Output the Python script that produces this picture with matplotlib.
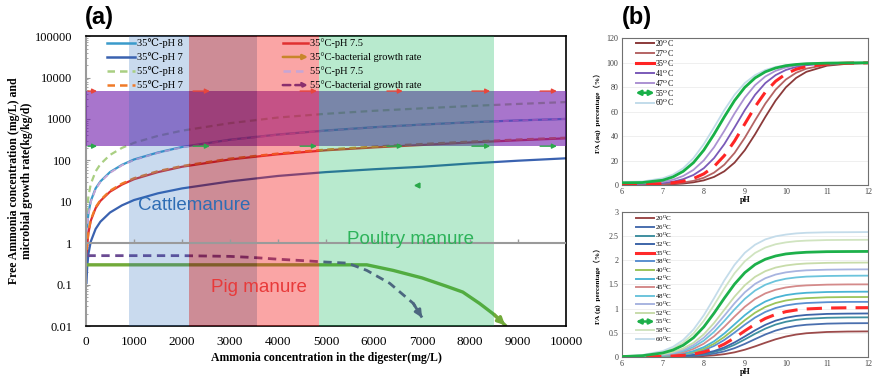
import matplotlib.pyplot as plt

plt.rcParams['mathtext.fontset'] = 'stix'
SERIF = ['Liberation Serif', 'DejaVu Serif', 'Noto Sans CJK SC']
SANS = ['Liberation Sans', 'DejaVu Sans']

# ---------------- panel (a) data ----------------
tan = [10, 25, 50, 100, 200, 300, 500, 750, 1000, 1500, 2000, 3000, 4000,
       5000, 6000, 7000, 8000, 9000, 10000]
fa_35_ph8 = [1.05, 2.6, 5.2, 10.5, 21, 31, 52, 78, 105, 155, 210, 315, 420,
             525, 630, 730, 830, 920, 1000]
fa_35_ph7 = [0.11, 0.27, 0.55, 1.1, 2.2, 3.3, 5.5, 8.2, 11, 16, 21, 31, 42,
             52, 61, 70, 84, 98, 112]
fa_55_ph8 = [2.7, 6.8, 13.5, 27, 54, 81, 135, 200, 265, 390, 520, 790, 1080,
             1330, 1570, 1800, 2050, 2300, 2550]
fa_55_ph7 = [0.37, 0.92, 1.85, 3.7, 7.4, 11, 18.5, 27.5, 37, 55, 73, 110, 146,
             182, 215, 248, 283, 318, 352]
fa_35_ph75 = [0.35, 0.88, 1.75, 3.5, 7, 10.5, 17.5, 26, 35, 52, 70, 105, 140,
              175, 205, 235, 270, 305, 340]
fa_55_ph75 = [1.0, 2.5, 5.0, 10, 20, 30, 50, 76, 102, 152, 205, 310, 415,
              520, 625, 725, 825, 915, 1000]

growth35_x = [30, 500, 1000, 2000, 3000, 4000, 5000, 5850, 6400, 7000, 7500,
              7850, 8200, 8500, 8730]
growth35_y = [0.3, 0.3, 0.3, 0.3, 0.3, 0.3, 0.3, 0.3, 0.22, 0.145, 0.092,
              0.066, 0.035, 0.019, 0.0105]
growth55_x = [30, 500, 1000, 2000, 3000, 3500, 4000, 4500, 5000, 5450, 5850,
              6330, 6820, 7000]
growth55_y = [0.5, 0.5, 0.5, 0.5, 0.48, 0.45, 0.41, 0.38, 0.35, 0.33, 0.22,
              0.107, 0.035, 0.016]

band_left = [900, 2150, 3560, 4850]
band_right = [2150, 3560, 4850, 8500]
inhib_low, inhib_high = 220, 4700
arrow_tails = [40, 2230, 4460, 6270, 8040, 9460]
arrow_heads = [230, 2580, 4810, 6600, 8420, 9810]
marker_x, marker_y = [6900], [25]

xticks_a = [0, 1000, 2000, 3000, 4000, 5000, 6000, 7000, 8000, 9000, 10000]
yticks_a = [0.01, 0.1, 1, 10, 100, 1000, 10000, 100000]
ylabels_a = ['0.01', '0.1', '1', '10', '100', '1000', '10000', '100000']

# ---------------- panel (b) data ----------------
ph = [6, 6.5, 7, 7.25, 7.5, 7.75, 8, 8.25, 8.5, 8.75, 9, 9.25, 9.5, 9.75,
      10, 10.25, 10.5, 11, 11.5, 12]

aq_20 = [0.5, 0.5, 0.5, 0.7, 1.2, 2.2, 3.8, 6.6, 11.2, 18.3, 28.5, 41.5,
         55.7, 69.1, 79.9, 87.6, 92.6, 97.6, 99.2, 99.7]
aq_27 = [0.6, 0.6, 0.7, 1.1, 2.0, 3.4, 5.9, 10.1, 16.6, 26.2, 38.7, 52.9,
         66.6, 78.0, 86.3, 91.8, 95.2, 98.4, 99.5, 99.8]
aq_35 = [0.8, 0.9, 1.0, 1.8, 3.1, 5.3, 9.1, 15.1, 24.0, 36.0, 50.0, 64.0,
         76.0, 84.9, 90.9, 94.7, 96.9, 99.0, 99.7, 99.9]
aq_41 = [1.0, 1.1, 1.6, 2.7, 4.8, 8.2, 13.7, 22.0, 33.4, 47.1, 61.3, 73.8,
         83.4, 89.9, 94.1, 96.6, 98.0, 99.4, 99.8, 100.0]
aq_47 = [1.2, 1.4, 2.5, 4.3, 7.4, 12.4, 20.1, 30.9, 44.3, 58.5, 71.5, 81.7,
         88.8, 93.4, 96.2, 97.8, 98.8, 99.6, 99.9, 100.0]
aq_55 = [1.8, 2.0, 3.9, 6.6, 11.2, 18.3, 28.5, 41.5, 55.7, 69.1, 79.9, 87.6,
         92.6, 95.7, 97.6, 98.6, 99.2, 99.7, 99.9, 100.0]
aq_60 = [2.5, 2.8, 5.5, 8.5, 13.7, 22.0, 33.4, 47.1, 61.3, 73.8, 83.4, 89.9,
         94.1, 96.6, 98.0, 98.9, 99.4, 99.8, 99.9, 100.0]

g_20 = [0.0, 0.001, 0.002, 0.004, 0.007, 0.012, 0.02, 0.035, 0.059, 0.097,
        0.151, 0.22, 0.295, 0.366, 0.423, 0.464, 0.491, 0.517, 0.526, 0.529]
g_26 = [0.0, 0.001, 0.004, 0.008, 0.014, 0.024, 0.042, 0.071, 0.116, 0.183,
        0.271, 0.37, 0.466, 0.546, 0.604, 0.643, 0.666, 0.689, 0.697, 0.699]
g_30 = [0.001, 0.002, 0.007, 0.011, 0.02, 0.035, 0.06, 0.102, 0.165, 0.253,
        0.363, 0.48, 0.586, 0.67, 0.728, 0.766, 0.789, 0.81, 0.817, 0.819]
g_32 = [0.001, 0.003, 0.008, 0.014, 0.025, 0.043, 0.074, 0.123, 0.198, 0.301,
        0.424, 0.552, 0.664, 0.751, 0.809, 0.847, 0.869, 0.89, 0.896, 0.899]
g_35 = [0.001, 0.004, 0.011, 0.02, 0.035, 0.06, 0.103, 0.169, 0.267, 0.395,
        0.54, 0.679, 0.796, 0.88, 0.936, 0.971, 0.992, 1.011, 1.017, 1.019]
g_38 = [0.002, 0.005, 0.016, 0.028, 0.049, 0.084, 0.141, 0.229, 0.352, 0.505,
        0.667, 0.815, 0.931, 1.012, 1.065, 1.097, 1.115, 1.132, 1.138, 1.139]
g_40 = [0.002, 0.006, 0.019, 0.034, 0.059, 0.101, 0.17, 0.273, 0.414, 0.584,
        0.76, 0.915, 1.034, 1.115, 1.167, 1.198, 1.215, 1.233, 1.238, 1.239]
g_42 = [0.002, 0.008, 0.024, 0.041, 0.072, 0.123, 0.204, 0.324, 0.486, 0.675,
        0.864, 1.026, 1.146, 1.227, 1.278, 1.308, 1.326, 1.342, 1.347, 1.349]
g_45 = [0.003, 0.011, 0.033, 0.058, 0.099, 0.168, 0.275, 0.428, 0.623, 0.836,
        1.037, 1.199, 1.314, 1.389, 1.436, 1.464, 1.479, 1.494, 1.499, 1.5]
g_48 = [0.004, 0.013, 0.041, 0.072, 0.124, 0.208, 0.338, 0.519, 0.744, 0.983,
        1.201, 1.373, 1.492, 1.569, 1.616, 1.643, 1.66, 1.673, 1.678, 1.68]
g_50 = [0.005, 0.016, 0.05, 0.086, 0.148, 0.248, 0.398, 0.605, 0.853, 1.11,
        1.336, 1.51, 1.627, 1.703, 1.748, 1.774, 1.79, 1.803, 1.808, 1.81]
g_52 = [0.006, 0.019, 0.06, 0.104, 0.177, 0.294, 0.468, 0.702, 0.975, 1.248,
        1.482, 1.656, 1.773, 1.847, 1.89, 1.916, 1.931, 1.944, 1.948, 1.95]
g_55 = [0.009, 0.027, 0.084, 0.144, 0.244, 0.399, 0.621, 0.905, 1.214, 1.506,
        1.742, 1.91, 2.019, 2.086, 2.128, 2.149, 2.163, 2.175, 2.178, 2.18]
g_58 = [0.011, 0.034, 0.103, 0.178, 0.3, 0.486, 0.748, 1.072, 1.416, 1.73,
        1.977, 2.149, 2.26, 2.328, 2.367, 2.391, 2.403, 2.415, 2.418, 2.42]
g_60 = [0.013, 0.04, 0.123, 0.211, 0.353, 0.568, 0.862, 1.215, 1.582, 1.904,
        2.152, 2.319, 2.428, 2.492, 2.528, 2.552, 2.565, 2.575, 2.577, 2.58]

aq_temps = ['20', '27', '35', '41', '47', '55', '60']
g_temps = ['20', '26', '30', '32', '35', '38', '40', '42', '45', '48', '50',
           '52', '55', '58', '60']

# ---------------- figure ----------------
fig = plt.figure(figsize=(8.74, 3.79), dpi=100)

# ===== panel (a) =====
ax = fig.add_axes([0.0984, 0.1398, 0.5492, 0.765])
ax.set_yscale('log')
ax.set_xlim(0, 10000)
ax.set_ylim(0.01, 100000)

ax.plot(tan, fa_55_ph8, color='#a9cf82', lw=1.6, ls=(0, (3, 2)), zorder=2)
ax.plot(tan, fa_35_ph8, color='#3a9bcb', lw=1.6, zorder=2)
ax.plot(tan, fa_55_ph75, color='#c6a6d6', lw=1.4, ls=(0, (3, 2)), zorder=2)
ax.plot(tan, fa_35_ph75, color='#e03030', lw=1.6, zorder=2)
ax.plot(tan, fa_55_ph7, color='#f07a28', lw=1.6, ls=(0, (3, 2)), zorder=2)
ax.plot(tan, fa_35_ph7, color='#3a62b0', lw=1.6, zorder=2)

ax.plot(growth35_x, growth35_y, color='#72aa3a', lw=2.4, zorder=2)
ax.annotate('', xy=(growth35_x[-1], growth35_y[-1]),
            xytext=(growth35_x[-2], growth35_y[-2]),
            arrowprops=dict(arrowstyle='-|>', color='#72aa3a', lw=2.4,
                            mutation_scale=10, shrinkA=0, shrinkB=0), zorder=2)
ax.plot(growth55_x, growth55_y, color='#6a4a92', lw=2.0, ls=(0, (3, 2)), zorder=2)
ax.annotate('', xy=(growth55_x[-1], growth55_y[-1]),
            xytext=(growth55_x[-2], growth55_y[-2]),
            arrowprops=dict(arrowstyle='-|>', color='#6a4a92', lw=2.0,
                            mutation_scale=10, shrinkA=0, shrinkB=0), zorder=2)

# inhibition range band, then manure bands laid over it
ax.axhspan(inhib_low, inhib_high, color='#6e19aa', alpha=0.6, lw=0, zorder=3)
band_colors = ['#286ebe', '#900016', '#f31e1e', '#00b450']
band_alpha = [0.25, 0.45, 0.4, 0.28]
for l, r, c, a in zip(band_left, band_right, band_colors, band_alpha):
    ax.axvspan(l, r, color=c, alpha=a, lw=0, zorder=4)

ax.axhline(1, color='#9a9a9a', lw=1.5, zorder=5)
ax.plot(xticks_a[1:-1], [1] * len(xticks_a[1:-1]), ls='none', marker=2,
        ms=3, color='#9a9a9a', zorder=5)

for tx, hx in zip(arrow_tails, arrow_heads):
    for yy, c in [(inhib_high, '#e8463c'), (inhib_low, '#2aa84a')]:
        ax.annotate('', xy=(hx, yy), xytext=(tx, yy),
                    arrowprops=dict(arrowstyle='-|>', color=c, lw=1.0,
                                    mutation_scale=7, shrinkA=0, shrinkB=0),
                    zorder=6)
ax.plot(marker_x, marker_y, ls='none', marker='<', ms=3.5, color='#2aa84a',
        zorder=6)

ax.text(2250, 8.3, 'Cattlemanure', color='#2e6db4', fontsize=13.5,
        family=SANS, ha='center', va='center', zorder=7)
ax.text(3600, 0.087, 'Pig manure', color='#e83a3a', fontsize=13.5,
        family=SANS, ha='center', va='center', zorder=7)
ax.text(6770, 1.23, 'Poultry manure', color='#2db35a', fontsize=13.5,
        family=SANS, ha='center', va='center', zorder=7)

ax.set_xticks(xticks_a)
ax.set_xticklabels([str(v) for v in xticks_a], family=SERIF, fontsize=9.5)
ax.set_yticks(yticks_a)
ax.set_yticklabels(ylabels_a, family=SERIF, fontsize=9)
ax.tick_params(axis='x', length=0, pad=7)
ax.tick_params(axis='y', which='major', direction='in', length=3,
               color='#9a9a9a', pad=10)
ax.tick_params(axis='y', which='minor', direction='in', length=1.5,
               color='#9a9a9a')
ax.spines['left'].set_color('#9a9a9a')
ax.spines['left'].set_linewidth(1.5)
for s in ['top', 'right', 'bottom']:
    ax.spines[s].set_linewidth(1.2)
ax.set_xlabel('Ammonia concentration in the digester(mg/L)', family=SERIF,
              fontsize=8.5, weight='bold', labelpad=3)
ax.set_ylabel('Free Ammonia concentration (mg/L) and\nmicrobial growth rate(kg/kg/d)',
              family=SERIF, fontsize=8.5, weight='bold', linespacing=1.15)
ax.yaxis.set_label_coords(-0.11, 0.5)


def leg_line(a, x0, x1, y, label, fs, text_dx, **kw):
    a.plot([x0, x1], [y, y], transform=a.transAxes, clip_on=False,
           zorder=10, **kw)
    a.text(x1 + text_dx, y, label, transform=a.transAxes, va='center',
           fontsize=fs, family=SERIF, zorder=10)


def leg_arrow(a, x0, x1, y, label, fs, text_dx, style, color, lw, ls='-'):
    a.annotate('', xy=(x1, y), xytext=(x0, y), xycoords='axes fraction',
               arrowprops=dict(arrowstyle=style, color=color, lw=lw, ls=ls,
                               mutation_scale=7, shrinkA=0, shrinkB=0),
               zorder=10)
    a.text(x1 + text_dx, y, label, transform=a.transAxes, va='center',
           fontsize=fs, family=SERIF, zorder=10)


rows_a = [0.976, 0.928, 0.879, 0.831]
leg_line(ax, 0.044, 0.102, rows_a[0], '35℃-pH 8', 7.5, 0.004,
         color='#3a9bcb', lw=1.8)
leg_line(ax, 0.044, 0.102, rows_a[1], '35℃-pH 7', 7.5, 0.004,
         color='#3a62b0', lw=1.8)
leg_line(ax, 0.044, 0.102, rows_a[2], '55℃-pH 8', 7.5, 0.004,
         color='#a9cf82', lw=1.8, ls=(0, (3, 2)))
leg_line(ax, 0.044, 0.102, rows_a[3], '55℃-pH 7', 7.5, 0.004,
         color='#f07a28', lw=1.8, ls=(0, (3, 2)))
leg_line(ax, 0.410, 0.4625, rows_a[0], '35°C-pH 7.5', 7.5, 0.004,
         color='#e03030', lw=1.8)
leg_arrow(ax, 0.410, 0.4625, rows_a[1], '35°C-bacterial growth rate', 7.5,
          0.004, '-|>', '#c8862a', 1.8)
leg_line(ax, 0.410, 0.4625, rows_a[2], '55°C-pH 7.5', 7.5, 0.004,
         color='#c6a6d6', lw=1.8, ls=(0, (3, 2)))
leg_arrow(ax, 0.410, 0.4625, rows_a[3], '55°C-bacterial growth rate', 7.5,
          0.004, '->', '#8a2e6e', 1.8, ls=(0, (3, 2)))

fig.text(85 / 874, 1 - 6 / 379, '(a)', fontsize=17, weight='bold',
         family=SANS, va='top')
fig.text(622 / 874, 1 - 6 / 379, '(b)', fontsize=17, weight='bold',
         family=SANS, va='top')


# ===== panel (b) =====
def style_b(a, ymax, ystep, ylab):
    a.set_xlim(6, 12)
    a.set_ylim(0, ymax)
    a.set_xticks([6, 7, 8, 9, 10, 11, 12])
    a.set_xticklabels(['6', '7', '8', '9', '10', '11', '12'], family=SERIF,
                      fontsize=5.8, color='#404040')
    yt = [i * ystep for i in range(int(round(ymax / ystep)) + 1)]
    a.set_yticks(yt)
    a.set_yticklabels([('%g' % v) for v in yt], family=SERIF, fontsize=5.8,
                      color='#404040')
    a.tick_params(length=0, pad=2.5)
    a.grid(axis='y', color='#ececec', lw=0.6)
    a.set_axisbelow(True)
    for s in a.spines.values():
        s.set_color('#707070')
        s.set_linewidth(0.8)
    a.set_xlabel('pH', family=SERIF, fontsize=5.8, weight='bold', labelpad=0)
    a.set_ylabel(ylab, family=SERIF, fontsize=5.3, weight='bold')
    a.yaxis.set_label_coords(-0.085, 0.5)


axb1 = fig.add_axes([0.7113, 0.5119, 0.2818, 0.387])
aq_data = [aq_20, aq_27, aq_35, aq_41, aq_47, aq_55, aq_60]
aq_colors = ['#8b3a3a', '#b46464', '#ff2424', '#7a5ab8', '#ab92d2',
             '#18b048', '#c2dcea']
for t, ys, c in zip(aq_temps, aq_data, aq_colors):
    if t == '35':
        axb1.plot(ph, ys, color=c, lw=2.2, ls=(0, (5, 3)), zorder=3)
    elif t == '55':
        axb1.plot(ph, ys, color=c, lw=2.0, zorder=4)
    else:
        axb1.plot(ph, ys, color=c, lw=1.3, zorder=2)
style_b(axb1, 120, 20, 'FA (aq)  percentage（%）')

rows_b1 = [(185 - (43.3 + 9.9 * i)) / 146.7 for i in range(len(aq_temps))]
for t, c, y in zip(aq_temps, aq_colors, rows_b1):
    lab = t + r'$^{\mathrm{O}}$C'
    if t == '55':
        leg_arrow(axb1, 0.057, 0.133, y, lab, 5.6, 0.004, '<|-|>', c, 1.8)
    elif t == '35':
        leg_line(axb1, 0.057, 0.133, y, lab, 5.6, 0.004, color=c, lw=2.2)
    else:
        leg_line(axb1, 0.057, 0.133, y, lab, 5.6, 0.004, color=c, lw=1.4)

axb2 = fig.add_axes([0.7113, 0.058, 0.2818, 0.3834])
g_data = [g_20, g_26, g_30, g_32, g_35, g_38, g_40, g_42, g_45, g_48, g_50,
          g_52, g_55, g_58, g_60]
g_colors = ['#9c4a4a', '#4a6fae', '#3f8fa0', '#3d65a8', '#ff2a2a', '#5a8fd0',
            '#9cc45a', '#4ab4d4', '#d48a8a', '#6cc4dc', '#a8b4e0', '#c8dcaa',
            '#1db04a', '#d0e4c0', '#c4dcea']
for t, ys, c in zip(g_temps, g_data, g_colors):
    if t == '35':
        axb2.plot(ph, ys, color=c, lw=2.2, ls=(0, (5, 3)), zorder=3)
    elif t == '55':
        axb2.plot(ph, ys, color=c, lw=2.0, zorder=4)
    else:
        axb2.plot(ph, ys, color=c, lw=1.3, zorder=2)
style_b(axb2, 3, 0.5, 'FA (g)  percentage（%）')

rows_b2 = [(357 - (218.3 + 8.6 * i)) / 145.3 for i in range(len(g_temps))]
for t, c, y in zip(g_temps, g_colors, rows_b2):
    lab = t + r'$^{\mathrm{O}}$C'
    if t == '55':
        leg_arrow(axb2, 0.058, 0.133, y, lab, 5.0, 0.004, '<|-|>', c, 1.8)
    elif t == '35':
        leg_line(axb2, 0.058, 0.133, y, lab, 5.0, 0.004, color=c, lw=2.2)
    else:
        leg_line(axb2, 0.058, 0.133, y, lab, 5.0, 0.004, color=c, lw=1.4)

fig.savefig('out.png', dpi=100)
